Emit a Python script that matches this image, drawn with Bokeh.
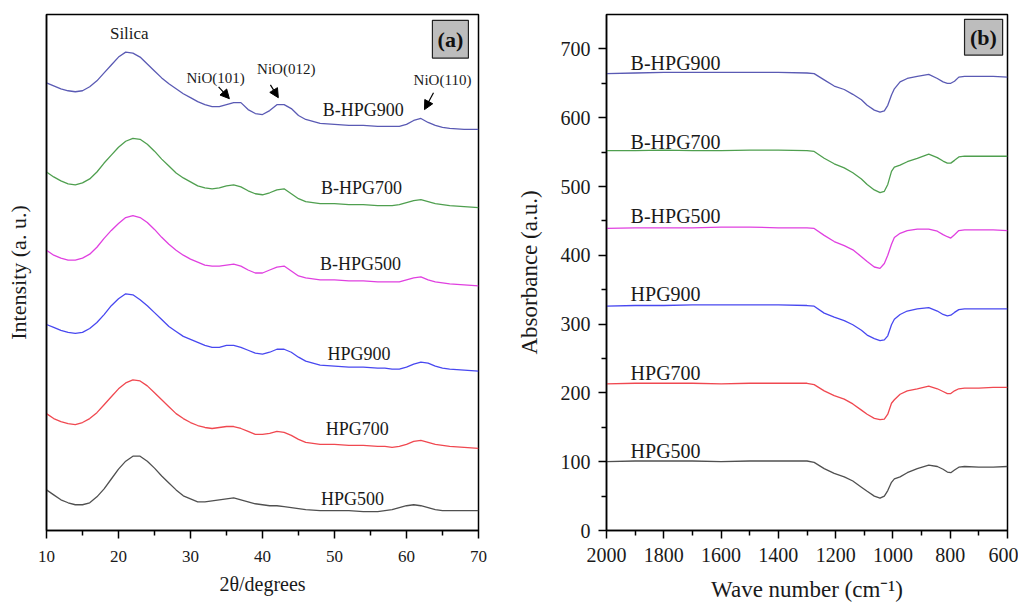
from bokeh.plotting import figure
from bokeh.layouts import row
from bokeh.models import Range1d, FixedTicker, Arrow, NormalHead
from bokeh.core.properties import value
from bokeh.embed import file_html
from bokeh.resources import INLINE

FONT = "Liberation Serif"

# ---------------- Panel (a): XRD ----------------
two_theta = [10, 11, 12, 13, 14, 15, 16, 17, 18, 19, 20, 21, 22, 23, 24, 25, 26, 27, 28, 29,
             30, 31, 32, 33, 34, 35, 36, 37, 38, 39, 40, 41, 42, 43, 44, 45, 46, 48, 50, 52,
             54, 56, 57, 58, 59, 60, 61, 62, 63, 64, 65, 66, 68, 70]

xrd_bhpg900 = [452, 449, 446, 444, 443, 444, 448, 454, 462, 470, 478, 483, 482, 478, 471, 464, 457, 451, 446, 441,
               437, 433, 430, 428, 428, 430, 432, 432, 425, 421, 420, 424, 430, 430, 426, 419, 415, 411, 410, 409,
               409, 408, 408, 408, 408, 410, 414, 416, 412, 409, 407, 406, 405, 405]
xrd_bhpg700 = [362, 357, 353, 350, 349, 351, 355, 362, 371, 379, 387, 393, 396, 395, 390, 383, 375, 368, 361, 356,
               352, 348, 346, 345, 346, 348, 349, 347, 343, 340, 339, 341, 344, 345, 340, 335, 332, 330, 330, 329,
               329, 328, 328, 328, 329, 331, 333, 334, 332, 330, 329, 328, 327, 326]
xrd_bhpg500 = [283, 278, 275, 273, 273, 275, 279, 286, 295, 303, 310, 316, 318, 316, 311, 304, 296, 289, 283, 278,
               274, 271, 268, 267, 267, 268, 269, 267, 263, 260, 260, 263, 266, 267, 262, 257, 255, 253, 253, 252,
               252, 251, 251, 251, 251, 253, 255, 256, 253, 251, 250, 249, 248, 247]
xrd_hpg900 = [208, 205, 202, 200, 199, 200, 204, 210, 218, 227, 234, 239, 238, 233, 227, 220, 213, 206, 201, 196,
              193, 190, 187, 185, 185, 187, 187, 185, 182, 179, 178, 180, 183, 183, 180, 175, 171, 167, 166, 165,
              165, 164, 164, 163, 163, 165, 168, 170, 169, 166, 164, 163, 162, 161]
xrd_hpg700 = [118, 113, 110, 108, 107, 109, 113, 119, 127, 135, 143, 149, 152, 151, 146, 139, 132, 125, 118, 113,
              109, 106, 104, 103, 104, 105, 105, 103, 100, 97, 97, 98, 100, 99, 96, 92, 89, 87, 87, 86,
              86, 85, 85, 84, 85, 87, 90, 91, 89, 87, 86, 85, 84, 83]
xrd_hpg500 = [41, 36, 31, 28, 26, 26, 28, 34, 42, 52, 62, 70, 75, 75, 70, 63, 55, 48, 41, 35,
              32, 29, 29, 30, 31, 32, 33, 31, 29, 27, 26, 25, 25, 24, 23, 22, 21, 20, 20, 20,
              19, 19, 20, 21, 23, 25, 26, 25, 23, 21, 20, 20, 20, 20]

series_names = ["B-HPG900", "B-HPG700", "B-HPG500", "HPG900", "HPG700", "HPG500"]
series_colors = ["#5a5ab4", "#4f9f4f", "#e040e0", "#4848f0", "#f04850", "#505050"]
xrd_series = [xrd_bhpg900, xrd_bhpg700, xrd_bhpg500, xrd_hpg900, xrd_hpg700, xrd_hpg500]

xrd_label_x = [54.0, 53.75, 53.6, 53.4, 53.15, 52.5]
xrd_label_y = [425, 346, 269, 178, 102, 32]

peak_labels = ["Silica", "NiO(101)", "NiO(012)", "NiO(110)"]
peak_label_x = [21.5, 33.5, 43.3, 65.0]
peak_label_y = [502, 457, 466, 455]

xrd_ticks = [10, 20, 30, 40, 50, 60, 70]

# ---------------- Panel (b): FTIR ----------------
wavenumber = [2000, 1900, 1800, 1700, 1600, 1500, 1400, 1300, 1275, 1240, 1205, 1170, 1140, 1110, 1090,
              1065, 1045, 1030, 1018, 1005, 995, 975, 950, 915, 875, 845, 825, 810, 798, 785, 770, 750, 700, 650, 600]

ir_bhpg900 = [664, 665, 666, 666, 666, 666, 666, 665, 664, 655, 646, 641, 634, 626, 618,
              611, 608, 610, 618, 633, 642, 652, 657, 660, 663, 657, 652, 650, 650, 653, 659, 660, 660, 660, 659]
ir_bhpg700 = [552, 552, 553, 552, 552, 553, 553, 552, 551, 541, 533, 527, 520, 511, 503,
              495, 491, 493, 503, 522, 528, 531, 536, 541, 547, 542, 537, 534, 534, 538, 543, 544, 544, 544, 544]
ir_bhpg500 = [439, 440, 440, 440, 441, 441, 440, 440, 439, 429, 420, 414, 408, 398, 391,
              383, 381, 388, 400, 416, 426, 432, 436, 438, 438, 435, 430, 427, 425, 430, 436, 437, 437, 437, 436]
ir_hpg900 = [326, 327, 327, 328, 328, 328, 328, 327, 326, 316, 310, 305, 299, 291, 284,
             279, 276, 277, 283, 299, 307, 314, 319, 322, 324, 319, 314, 312, 313, 317, 321, 322, 322, 322, 322]
ir_hpg700 = [213, 214, 214, 214, 213, 214, 214, 214, 212, 203, 196, 191, 184, 175, 169,
             163, 161, 162, 169, 185, 190, 198, 203, 206, 210, 206, 202, 199, 199, 203, 206, 207, 207, 208, 208]
ir_hpg500 = [100, 101, 101, 101, 100, 101, 101, 101, 99, 90, 83, 78, 72, 63, 57,
             50, 47, 50, 58, 70, 75, 78, 84, 90, 95, 93, 89, 85, 84, 88, 92, 93, 92, 92, 93]
ir_series = [ir_bhpg900, ir_bhpg700, ir_bhpg500, ir_hpg900, ir_hpg700, ir_hpg500]

ir_label_x = [1916] * 6
ir_label_y = [680, 565, 457, 344, 229, 115]

ir_xticks = [2000, 1800, 1600, 1400, 1200, 1000, 800, 600]
ir_yticks = [0, 100, 200, 300, 400, 500, 600, 700]


def style_axes(p, tick_size):
    for ax in (p.xaxis[0], p.yaxis[0]):
        ax.axis_line_color = "black"
        ax.axis_line_width = 1.5
        ax.major_tick_line_color = "black"
        ax.major_tick_line_width = 1.5
        ax.minor_tick_line_color = "black"
        ax.minor_tick_line_width = 1.5
        ax.major_tick_in = 0
        ax.major_tick_out = 8
        ax.minor_tick_in = 0
        ax.minor_tick_out = 5
        ax.major_label_text_font = FONT
        ax.major_label_text_font_size = f"{tick_size}px"
        ax.major_label_text_color = "#1a1a1a"
        ax.axis_label_text_font = FONT
        ax.axis_label_text_font_style = "normal"
        ax.axis_label_text_color = "#1a1a1a"
    p.xgrid.visible = False
    p.ygrid.visible = False
    p.outline_line_color = "black"
    p.outline_line_width = 1.5
    p.outline_line_alpha = 1.0


# ---------- figure (a) ----------
pa = figure(width=510, height=604, output_backend="svg", toolbar_location=None,
            x_range=Range1d(10, 70), y_range=Range1d(0, 521),
            min_border_left=46, min_border_right=32, min_border_top=14, min_border_bottom=69)
style_axes(pa, 17)
pa.xaxis.ticker = FixedTicker(ticks=xrd_ticks, minor_ticks=[15, 25, 35, 45, 55, 65])
pa.xaxis.major_label_standoff = 12
pa.xaxis.axis_label = "2θ/degrees"
pa.xaxis.axis_label_text_font_size = "20px"
pa.xaxis.axis_label_standoff = 8
pa.yaxis.ticker = FixedTicker(ticks=[])
pa.yaxis.major_label_text_font_size = "0px"
pa.yaxis.major_tick_out = 0
pa.yaxis.minor_tick_out = 0
pa.yaxis.axis_label = "Intensity (a. u.)"
pa.yaxis.axis_label_text_font_size = "22px"
pa.yaxis.axis_label_standoff = 16

for ys, c in zip(xrd_series, series_colors):
    pa.line(two_theta, ys, line_color=c, line_width=1.3)

pa.text(x=xrd_label_x, y=xrd_label_y, text=series_names, text_font=value(FONT),
        text_font_size="18px", text_align="center", text_baseline="middle", text_color="#1a1a1a")
pa.text(x=peak_label_x[:1], y=peak_label_y[:1], text=peak_labels[:1], text_font=value(FONT),
        text_font_size="17px", text_align="center", text_baseline="middle", text_color="#1a1a1a")
pa.text(x=peak_label_x[1:], y=peak_label_y[1:], text=peak_labels[1:], text_font=value(FONT),
        text_font_size="15px", text_align="center", text_baseline="middle", text_color="#1a1a1a")

for xs, ys, xe, ye in [(33.9, 448, 35.4, 436), (41.1, 450, 42.2, 437), (63.75, 442, 62.5, 425)]:
    pa.add_layout(Arrow(end=NormalHead(size=9, fill_color="black", line_color="black"),
                        x_start=xs, y_start=ys, x_end=xe, y_end=ye,
                        line_color="black", line_width=1.2))

pa.quad(left=[63.6], right=[68.6], top=[515], bottom=[477], fill_color="#bdbdbd",
        line_color="#222222", line_width=1.2)
pa.text(x=[66.1], y=[496], text=["(a)"], text_font=value(FONT), text_font_size="22px",
        text_font_style="bold", text_align="center", text_baseline="middle", text_color="#111111")

# ---------- figure (b) ----------
pb = figure(width=508, height=604, output_backend="svg", toolbar_location=None,
            x_range=Range1d(2000, 600), y_range=Range1d(0, 750),
            min_border_left=96, min_border_right=11, min_border_top=14, min_border_bottom=65)
style_axes(pb, 20)
pb.xaxis.ticker = FixedTicker(ticks=ir_xticks,
                              minor_ticks=[1900, 1700, 1500, 1300, 1100, 900, 700])
pb.yaxis.ticker = FixedTicker(ticks=ir_yticks,
                              minor_ticks=[50, 150, 250, 350, 450, 550, 650])
pb.xaxis.major_label_standoff = 9
pb.yaxis.major_label_standoff = 8
pb.xaxis.axis_label = "Wave number (cm⁻¹)"
pb.xaxis.axis_label_text_font_size = "23px"
pb.xaxis.axis_label_standoff = 12
pb.yaxis.axis_label = "Absorbance (a.u.)"
pb.yaxis.axis_label_text_font_size = "23px"
pb.yaxis.axis_label_standoff = 16

for ys, c in zip(ir_series, series_colors):
    pb.line(wavenumber, ys, line_color=c, line_width=1.3)

pb.text(x=ir_label_x, y=ir_label_y, text=series_names, text_font=value(FONT),
        text_font_size="20px", text_align="left", text_baseline="middle", text_color="#1a1a1a")

pb.quad(left=[750], right=[617], top=[743], bottom=[691], fill_color="#bdbdbd",
        line_color="#222222", line_width=1.2)
pb.text(x=[684], y=[717], text=["(b)"], text_font=value(FONT), text_font_size="22px",
        text_font_style="bold", text_align="center", text_baseline="middle", text_color="#111111")

layout = row(pa, pb)
open("out.html", "w").write(file_html(layout, INLINE))
